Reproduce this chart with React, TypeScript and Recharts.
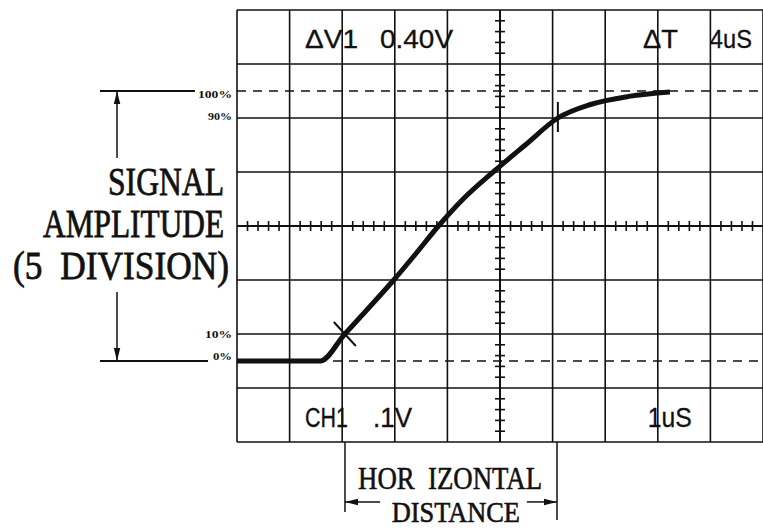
import React from "react";
import { LineChart, Line, XAxis, YAxis, ReferenceLine, ReferenceDot } from "recharts";

// Trace: x in horizontal divisions (0..10), y in % of signal amplitude
const curveX = [0, 1.58, 2.05, 2.52, 2.98, 3.41, 3.83, 4.3, 4.87, 5.48, 6.1, 6.72, 7.45, 8.23];
const curveY = [0, 0, 10, 20, 30, 40, 50, 60, 70, 80, 90, 95, 98, 99.6];

// Graticule
const gridX = [0, 1, 2, 3, 4, 5, 6, 7, 8, 9, 10];
const gridY = [-30, -10, 10, 30, 50, 70, 90, 110, 130];
const dashedY = [0, 100];
const centerX = 5;
const centerY = 50;
const subSteps = [0.2, 0.4, 0.6, 0.8];
const minorX = gridX.flatMap((g) => subSteps.map((f) => g + f)).filter((v) => v < 10);
const minorY = gridY.flatMap((g) => subSteps.map((f) => g + f * 20)).filter((v) => v < 130);

// Level labels at the left
const levelLabels = ["100%", "90%", "10%", "0%"];
const levelValues = [97.4, 89.3, 8.5, 0.4];
const levelWidths = [34, 24, 27, 19];

// Left amplitude title
const titleLines = ["SIGNAL", "AMPLITUDE", "(5  DIVISION)"];
const titleY = [61.5, 45.9, 30.4];
const titleX = [-0.247, -0.247, -0.152];
const titleWidths = [116, 181, 216];

// Screen readouts
const readouts = ["ΔV1", "0.40V", "ΔT", "4uS", "CH1", ".1V", "1uS"];
const readoutX = [1.293, 2.719, 7.72, 8.99, 1.293, 2.586, 7.81];
const readoutY = [115.9, 115.9, 115.9, 115.9, -24.4, -24.4, -24.4];
const readoutW = [53, 73, 35, 42, 43, 39, 44];

// Bottom caption
const captionLines = ["HOR  IZONTAL", "DISTANCE"];
const captionX = [4.05, 4.16];
const captionY = [-47.4, -59.6];
const captionW = [184, 128];
const captionSize = [27.5, 24];
const captionSy = [1.15, 1.22];

// Measurement points (10% and 90%)
const mark10 = { x: 2.05, y: 10 };
const mark90 = { x: 6.1, y: 90 };

// Annotation geometry in data units
const ampArrowX = -2.281;
const leftLineStart = -2.605;
const topLineEnd = -0.8;
const bottomLineEnd = -0.551;
const ampGapTop = 75.2;
const ampGapBottom = 25.6;
const horStart = 2.053;
const horEnd = 6.084;
const horArrowY = -52.2;
const horLeftEnd = 2.72;
const horRightStart = 5.51;
const horLeftBottom = -55.9;
const horRightBottom = -58.9;

const data = curveX.map((x, i) => ({ x, y: curveY[i] }));

const INK = "#111";

function arrowShape(dir: "up" | "down" | "left" | "right") {
  return (p: any) => {
    const { cx, cy } = p;
    const L = 13;
    const w = 3.2;
    let pts = "";
    if (dir === "up") pts = `${cx},${cy} ${cx - w},${cy + L} ${cx + w},${cy + L}`;
    if (dir === "down") pts = `${cx},${cy} ${cx - w},${cy - L} ${cx + w},${cy - L}`;
    if (dir === "left") pts = `${cx},${cy} ${cx + L},${cy - w} ${cx + L},${cy + w}`;
    if (dir === "right") pts = `${cx},${cy} ${cx - L},${cy - w} ${cx - L},${cy + w}`;
    return <polygon points={pts} fill={INK} />;
  };
}

function textShape(
  text: string,
  opts: { family: string; size: number; anchor: string; width: number; sy?: number; weight?: string; bold?: number }
) {
  return (p: any) => (
    <text
      transform={`translate(${p.cx},${p.cy}) scale(1,${opts.sy ?? 1})`}
      x={0}
      y={0}
      fontFamily={opts.family}
      fontSize={opts.size}
      fontWeight={opts.weight ?? "normal"}
      textAnchor={opts.anchor}
      textLength={opts.width}
      lengthAdjust="spacingAndGlyphs"
      fill={INK}
      stroke={opts.bold ? INK : "none"}
      strokeWidth={opts.bold ?? 0}
      style={{ whiteSpace: "pre" }}
    >
      {text}
    </text>
  );
}

const xMarkShape = (p: any) => (
  <g stroke={INK} strokeWidth={2}>
    <line x1={p.cx - 11} y1={p.cy - 12} x2={p.cx + 11} y2={p.cy + 12} />
    <line x1={p.cx - 11} y1={p.cy + 12} x2={p.cx + 11} y2={p.cy - 12} />
  </g>
);

const vMarkShape = (p: any) => (
  <g stroke={INK} strokeWidth={2}>
    <line x1={p.cx} y1={p.cy - 16} x2={p.cx} y2={p.cy + 14} />
  </g>
);

export default function App() {
  const seg = (a: [number, number], b: [number, number], key: string, w = 1.5) => (
    <ReferenceLine
      key={key}
      segment={[{ x: a[0], y: a[1] }, { x: b[0], y: b[1] }]}
      stroke={INK}
      strokeWidth={w}
      ifOverflow="visible"
    />
  );

  return (
    <div style={{ position: "absolute", left: 0, top: 0, width: 763, height: 529, background: "#fff" }}>
      <LineChart
        width={763}
        height={529}
        data={data}
        margin={{ top: 10, right: 0, bottom: 87, left: 237 }}
      >
        <XAxis type="number" dataKey="x" domain={[0, 10]} hide allowDataOverflow />
        <YAxis type="number" domain={[-30, 130]} hide allowDataOverflow />

        {gridX.map((g) => (
          <ReferenceLine key={`gx${g}`} x={g} stroke={INK} strokeWidth={g === centerX ? 2 : 1.6} />
        ))}
        {gridY.map((g) => (
          <ReferenceLine key={`gy${g}`} y={g} stroke={INK} strokeWidth={g === centerY ? 2 : 1.6} />
        ))}
        {dashedY.map((g) => (
          <ReferenceLine key={`dy${g}`} y={g} stroke={INK} strokeWidth={1.7} strokeDasharray="9 7" />
        ))}
        {minorX.map((t) =>
          seg([t, centerY - 1.85], [t, centerY + 1.85], `mx${t}`, 1.6)
        )}
        {minorY.map((t) =>
          seg([centerX - 0.095, t], [centerX + 0.095, t], `my${t}`, 1.6)
        )}

        <Line
          type="monotone"
          dataKey="y"
          stroke={INK}
          strokeWidth={5}
          dot={false}
          isAnimationActive={false}
        />

        <ReferenceDot x={mark10.x} y={mark10.y} r={0} ifOverflow="visible" shape={xMarkShape} />
        <ReferenceDot x={mark90.x} y={mark90.y} r={0} ifOverflow="visible" shape={vMarkShape} />

        {/* Left amplitude annotation */}
        {seg([leftLineStart, 100], [topLineEnd, 100], "l100", 2)}
        {seg([leftLineStart, 0], [bottomLineEnd, 0], "l0", 2)}
        {seg([ampArrowX, 100], [ampArrowX, ampGapTop], "a1", 1.5)}
        {seg([ampArrowX, ampGapBottom], [ampArrowX, 0], "a2", 1.5)}
        <ReferenceDot x={ampArrowX} y={100} r={0} ifOverflow="visible" shape={arrowShape("up")} />
        <ReferenceDot x={ampArrowX} y={0} r={0} ifOverflow="visible" shape={arrowShape("down")} />

        {levelLabels.map((t, i) => (
          <ReferenceDot
            key={`lv${t}`}
            x={-0.095}
            y={levelValues[i]}
            r={0}
            ifOverflow="visible"
            shape={textShape(t, { family: "Liberation Serif", size: 11, anchor: "end", width: levelWidths[i], weight: "bold" })}
          />
        ))}

        {titleLines.map((t, i) => (
          <ReferenceDot
            key={`tl${i}`}
            x={titleX[i]}
            y={titleY[i]}
            r={0}
            ifOverflow="visible"
            shape={textShape(t, { family: "Liberation Serif", size: 31, anchor: "end", width: titleWidths[i], sy: 1.3, bold: 0.6 })}
          />
        ))}

        {readouts.map((t, i) => (
          <ReferenceDot
            key={`rd${i}`}
            x={readoutX[i]}
            y={readoutY[i]}
            r={0}
            ifOverflow="visible"
            shape={textShape(t, { family: "Liberation Sans", size: i < 4 ? 25 : 27, anchor: "start", width: readoutW[i], bold: 0.3 })}
          />
        ))}

        {/* Bottom horizontal-distance annotation */}
        {seg([horStart, -30], [horStart, horLeftBottom], "h1", 1.5)}
        {seg([horEnd, -30], [horEnd, horRightBottom], "h2", 1.5)}
        {seg([horStart, horArrowY], [horLeftEnd, horArrowY], "h3", 1.5)}
        {seg([horRightStart, horArrowY], [horEnd, horArrowY], "h4", 1.5)}
        <ReferenceDot x={horStart} y={horArrowY} r={0} ifOverflow="visible" shape={arrowShape("left")} />
        <ReferenceDot x={horEnd} y={horArrowY} r={0} ifOverflow="visible" shape={arrowShape("right")} />

        {captionLines.map((t, i) => (
          <ReferenceDot
            key={`cp${i}`}
            x={captionX[i]}
            y={captionY[i]}
            r={0}
            ifOverflow="visible"
            shape={textShape(t, { family: "Liberation Serif", size: captionSize[i], anchor: "middle", width: captionW[i], sy: captionSy[i], bold: 0.5 })}
          />
        ))}
      </LineChart>
    </div>
  );
}
